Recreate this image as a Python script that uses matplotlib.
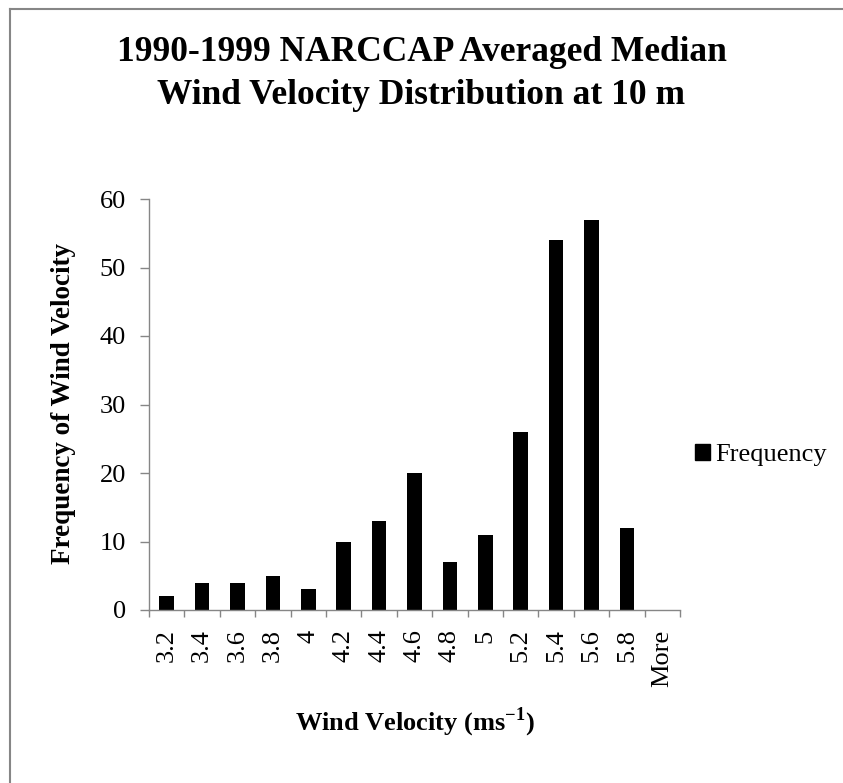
import numpy as np
import matplotlib
matplotlib.use("Agg")
import matplotlib.pyplot as plt
from matplotlib.lines import Line2D
from matplotlib.patches import Patch

plt.rcParams['font.family'] = ['Liberation Serif', 'DejaVu Serif']
plt.rcParams['mathtext.fontset'] = 'custom'
plt.rcParams['mathtext.rm'] = 'Liberation Serif'
plt.rcParams['mathtext.bf'] = 'Liberation Serif:bold'

# histogram bins and counts
categories = ["3.2", "3.4", "3.6", "3.8", "4", "4.2", "4.4", "4.6",
              "4.8", "5", "5.2", "5.4", "5.6", "5.8", "More"]
frequency = [2, 4, 4, 5, 3, 10, 13, 20, 7, 11, 26, 54, 57, 12, 0]
y_ticks = [0, 10, 20, 30, 40, 50, 60]

axis_grey = "#868686"

fig = plt.figure(figsize=(8.43, 7.83), dpi=100)
ax = fig.add_axes([149 / 843, 1 - 610 / 783, 531 / 843, 411 / 783])

x = np.arange(len(categories))
ax.bar(x, frequency, width=0.41, color="black")

ax.set_xlim(-0.5, len(categories) - 0.5)
ax.set_ylim(0, 60)
ax.set_yticks(y_ticks)
ax.set_yticklabels([str(v) for v in y_ticks], fontsize=19)

# category labels centred, tick marks at the bin boundaries
ax.set_xticks(x)
ax.set_xticklabels(categories, rotation=90, fontsize=19)
ax.set_xticks(np.arange(-0.5, len(categories)), minor=True)
ax.tick_params(axis="x", which="major", length=0, pad=14)
ax.tick_params(axis="x", which="minor", length=5, width=1.0, color=axis_grey)
ax.tick_params(axis="y", length=6.5, width=1.0, color=axis_grey, pad=10)

for s in ["top", "right"]:
    ax.spines[s].set_visible(False)
for s in ["left", "bottom"]:
    ax.spines[s].set_color(axis_grey)
    ax.spines[s].set_linewidth(1.0)

fig.text(0.5, 1 - 74 / 783, "1990-1999 NARCCAP Averaged Median\nWind Velocity Distribution at 10 m",
         ha="center", va="center", fontsize=25.5, fontweight="bold", linespacing=1.4)
fig.text(64 / 843, 1 - 404 / 783, "Frequency of Wind Velocity", rotation=90,
         ha="center", va="center", fontsize=19.5, fontweight="bold")
fig.text(415 / 843, 1 - 722 / 783, r"Wind Velocity (ms$^{\mathbf{-1}}$)",
         ha="center", va="center", fontsize=19, fontweight="bold")

leg_handle = Patch(facecolor="black", edgecolor="black")
fig.legend([leg_handle], ["Frequency"], loc="center left",
           bbox_to_anchor=(695 / 843, 1 - 455 / 783), frameon=False,
           fontsize=19, handlelength=0.55, handleheight=0.55, handletextpad=0.2,
           borderpad=0, borderaxespad=0)

# chart border (only left and top edges fall inside the image)
fig.add_artist(Line2D([10 / 843, 10 / 843], [0, 1 - 9 / 783], color=axis_grey, lw=1.5))
fig.add_artist(Line2D([10 / 843, 1], [1 - 9 / 783, 1 - 9 / 783], color=axis_grey, lw=1.5))

fig.savefig("out.png", dpi=100)
